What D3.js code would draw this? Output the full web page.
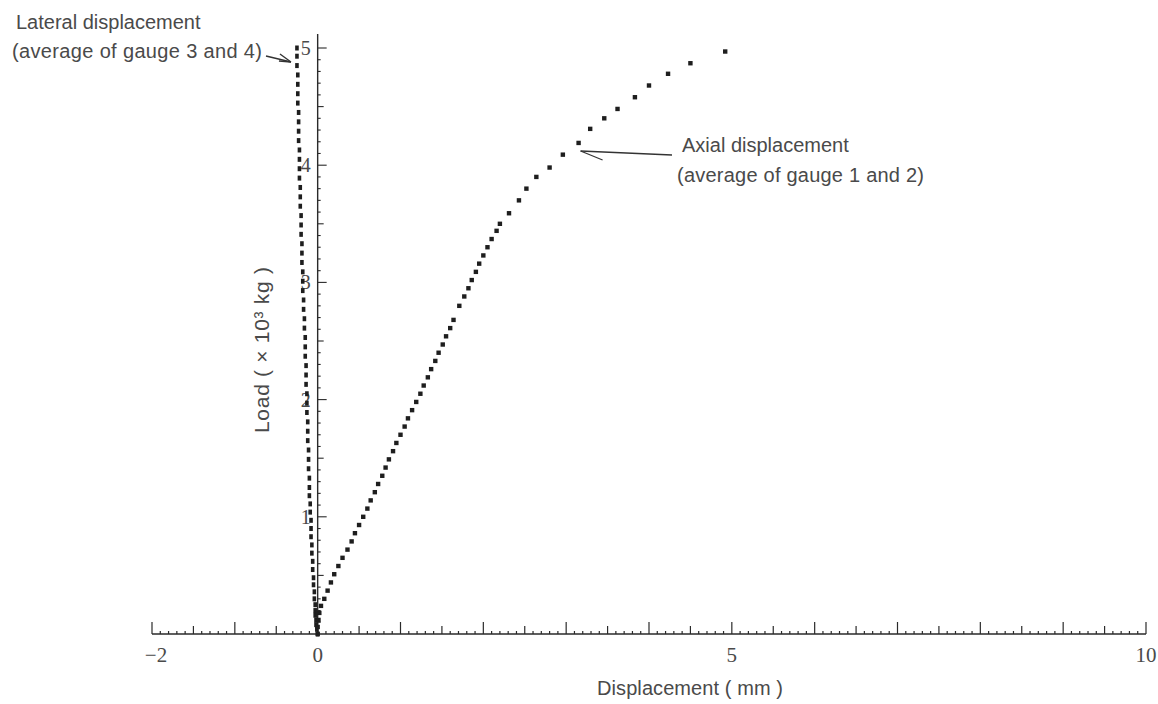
<!DOCTYPE html>
<html>
<head>
<meta charset="utf-8">
<script src="https://cdn.jsdelivr.net/npm/d3@7/dist/d3.min.js"></script>
<style>
  html, body { margin: 0; padding: 0; background: #fff; }
  svg { display: block; }
</style>
</head>
<body>
<svg id="chart" width="1158" height="704"></svg>
<script>
// ---- data ----
const xTickLabels = [-2, 0, 5, 10];
const yTickLabels = [1, 2, 3, 4, 5];

// Axial displacement (average of gauge 1 and 2): load (x10^3 kg) and displacement (mm)
const axialLoad = [
  0.00, 0.06, 0.12, 0.18, 0.24, 0.30, 0.37, 0.44, 0.51, 0.58,
  0.65, 0.72, 0.79, 0.86, 0.93, 1.00, 1.07, 1.14, 1.21, 1.28,
  1.35, 1.42, 1.49, 1.56, 1.63, 1.70, 1.77, 1.84, 1.91, 1.98,
  2.05, 2.12, 2.19, 2.26, 2.33, 2.40, 2.47, 2.54, 2.61, 2.68,
  2.80, 2.88, 2.95, 3.02, 3.09, 3.16, 3.23, 3.30, 3.37, 3.44,
  3.50, 3.59, 3.70, 3.80, 3.90, 3.98, 4.09, 4.19, 4.31, 4.40,
  4.48, 4.58, 4.68, 4.78, 4.87, 4.97
];
const axialDisp = [
  0.00, 0.00, 0.01, 0.02, 0.04, 0.08, 0.12, 0.16, 0.20, 0.25,
  0.30, 0.36, 0.41, 0.45, 0.50, 0.55, 0.60, 0.64, 0.69, 0.73,
  0.78, 0.82, 0.86, 0.91, 0.95, 1.00, 1.05, 1.09, 1.14, 1.19,
  1.24, 1.28, 1.33, 1.37, 1.42, 1.46, 1.51, 1.55, 1.60, 1.64,
  1.71, 1.77, 1.82, 1.86, 1.91, 1.95, 2.00, 2.05, 2.10, 2.16,
  2.20, 2.31, 2.43, 2.52, 2.64, 2.80, 2.96, 3.15, 3.29, 3.46,
  3.62, 3.83, 4.00, 4.23, 4.50, 4.92
];

// Lateral displacement (average of gauge 3 and 4)
const lateralLoad = [
  0.00, 0.04, 0.08, 0.12, 0.16, 0.20, 0.25, 0.30, 0.36, 0.42,
  0.48, 0.55, 0.62, 0.69, 0.76, 0.83, 0.90, 0.97, 1.04, 1.11,
  1.18, 1.25, 1.33, 1.41, 1.49, 1.57, 1.65, 1.73, 1.81, 1.89,
  1.97, 2.05, 2.13, 2.21, 2.29, 2.37, 2.45, 2.53, 2.61, 2.69,
  2.77, 2.85, 2.93, 3.01, 3.09, 3.17, 3.25, 3.33, 3.41, 3.49,
  3.57, 3.65, 3.73, 3.81, 3.89, 3.97, 4.05, 4.13, 4.21, 4.29,
  4.37, 4.45, 4.53, 4.61, 4.69, 4.77, 4.85, 4.93, 5.00
];
const lateralDisp = [
  0.00, -0.01, -0.02, -0.02, -0.03, -0.03, -0.03, -0.04, -0.04, -0.05,
  -0.05, -0.06, -0.06, -0.07, -0.07, -0.08, -0.08, -0.08, -0.09, -0.09,
  -0.10, -0.10, -0.10, -0.11, -0.11, -0.11, -0.12, -0.12, -0.12, -0.13,
  -0.13, -0.13, -0.14, -0.14, -0.14, -0.15, -0.15, -0.15, -0.16, -0.16,
  -0.17, -0.17, -0.18, -0.18, -0.18, -0.19, -0.19, -0.19, -0.20, -0.20,
  -0.20, -0.21, -0.21, -0.21, -0.22, -0.22, -0.22, -0.22, -0.23, -0.23,
  -0.23, -0.23, -0.24, -0.24, -0.24, -0.24, -0.25, -0.25, -0.25
];

const axialData = axialLoad.map((l, i) => ({ load: l, disp: axialDisp[i] }));
const lateralData = lateralLoad.map((l, i) => ({ load: l, disp: lateralDisp[i] }));

// ---- layout ----
const svg = d3.select("#chart");
const x = d3.scaleLinear().domain([-2, 10]).range([152, 1146]);
const y = d3.scaleLinear().domain([0, 5]).range([634, 48]);
const ink = "#2a2a2a";
const textInk = "#4a4a4a";
const sans = "Liberation Sans, Arial, sans-serif";

// ---- x axis (ticks pointing up) ----
const xAxisG = svg.append("g").attr("transform", `translate(0,${y(0)})`);
xAxisG.append("line")
  .attr("x1", x(-2)).attr("x2", x(10))
  .attr("stroke", ink).attr("stroke-width", 1.4);
const xMinor = d3.range(-20, 101).map(d => d / 10);
xAxisG.selectAll("line.tick")
  .data(xMinor).enter().append("line")
  .attr("class", "tick")
  .attr("x1", d => x(d)).attr("x2", d => x(d))
  .attr("y1", 0)
  .attr("y2", d => {
    const r = Math.round(d * 10);
    if (r % 10 === 0) return -12;
    if (r % 5 === 0) return -8;
    return -3;
  })
  .attr("stroke", ink).attr("stroke-width", 1.2);
xAxisG.selectAll("text.lbl")
  .data(xTickLabels).enter().append("text")
  .attr("class", "lbl")
  .attr("x", d => x(d) + (d < 0 ? 4 : 0))
  .attr("y", 28)
  .attr("text-anchor", "middle")
  .attr("font-family", "Liberation Serif, serif")
  .attr("font-size", 21)
  .attr("fill", textInk)
  .text(d => d < 0 ? "\u2212" + Math.abs(d) : d);

// ---- y axis (at x = 0, ticks pointing right) ----
const yAxisG = svg.append("g").attr("transform", `translate(${x(0)},0)`);
yAxisG.append("line")
  .attr("y1", y(0)).attr("y2", 34)
  .attr("stroke", ink).attr("stroke-width", 1.4);
const yMinor = d3.range(1, 51).map(d => d / 10);
yAxisG.selectAll("line.tick")
  .data(yMinor).enter().append("line")
  .attr("class", "tick")
  .attr("y1", d => y(d)).attr("y2", d => y(d))
  .attr("x1", 0)
  .attr("x2", d => {
    const r = Math.round(d * 10);
    if (r % 10 === 0) return 9;
    if (r % 5 === 0) return 6;
    return 3;
  })
  .attr("stroke", ink).attr("stroke-width", 1.1);
yAxisG.selectAll("text.lbl")
  .data(yTickLabels).enter().append("text")
  .attr("class", "lbl")
  .attr("x", -7)
  .attr("y", d => y(d) + 7)
  .attr("text-anchor", "end")
  .attr("font-family", "Liberation Serif, serif")
  .attr("font-size", 20)
  .attr("fill", textInk)
  .text(d => d);

// ---- data marks ----
svg.append("g").selectAll("rect")
  .data(lateralData).enter().append("rect")
  .attr("x", d => x(d.disp) - 1.8)
  .attr("y", d => y(d.load) - 2.5)
  .attr("width", 3.6).attr("height", 5)
  .attr("fill", "#1e1e1e");

svg.append("g").selectAll("rect")
  .data(axialData).enter().append("rect")
  .attr("x", d => x(d.disp) - 2.2)
  .attr("y", d => y(d.load) - 2.2)
  .attr("width", 4.4).attr("height", 4.4)
  .attr("fill", "#1e1e1e");

// ---- axis titles ----
svg.append("text")
  .attr("x", 597).attr("y", 695)
  .attr("font-family", sans)
  .attr("font-size", 20)
  .attr("fill", textInk)
  .attr("textLength", 186)
  .attr("lengthAdjust", "spacing")
  .text("Displacement ( mm )");

svg.append("text")
  .attr("transform", "translate(269,433) rotate(-90)")
  .attr("font-family", sans)
  .attr("font-size", 21)
  .attr("fill", textInk)
  .attr("textLength", 166)
  .attr("lengthAdjust", "spacing")
  .text("Load ( \u00d7 10\u00b3 kg )");

// ---- annotations ----
const latTop = lateralData[lateralData.length - 1];
const lat = svg.append("g")
  .attr("font-family", sans)
  .attr("font-size", 20)
  .attr("fill", textInk);
lat.append("text").attr("x", 16).attr("y", 29).text("Lateral displacement");
lat.append("text").attr("x", 12).attr("y", 58)
  .attr("textLength", 250).attr("lengthAdjust", "spacing")
  .text("(average of gauge 3 and 4)");
// arrow to the lateral series
const lx = x(latTop.disp) - 6, ly = y(latTop.load) + 14;
svg.append("line").attr("x1", 266).attr("y1", 56).attr("x2", lx).attr("y2", ly)
  .attr("stroke", "#333").attr("stroke-width", 1.5);
svg.append("line").attr("x1", lx).attr("y1", ly).attr("x2", lx - 11).attr("y2", ly - 8)
  .attr("stroke", "#333").attr("stroke-width", 1.4);
svg.append("line").attr("x1", lx).attr("y1", ly).attr("x2", lx - 12).attr("y2", ly - 1)
  .attr("stroke", "#333").attr("stroke-width", 1.4);

const ax = svg.append("g")
  .attr("font-family", sans)
  .attr("font-size", 20)
  .attr("fill", textInk);
ax.append("text").attr("x", 682).attr("y", 152).text("Axial displacement");
ax.append("text").attr("x", 677).attr("y", 182)
  .attr("textLength", 247).attr("lengthAdjust", "spacing")
  .text("(average of gauge 1 and 2)");
// pointer to the axial series
const aPt = axialData.find(d => d.load === 4.19);
const px = x(aPt.disp) + 2, py = y(aPt.load) + 8;
svg.append("line").attr("x1", 672).attr("y1", 155).attr("x2", px).attr("y2", py)
  .attr("stroke", "#333").attr("stroke-width", 1.4);
svg.append("line").attr("x1", px).attr("y1", py).attr("x2", px + 22).attr("y2", py + 9)
  .attr("stroke", "#333").attr("stroke-width", 1.2);
</script>
</body>
</html>
